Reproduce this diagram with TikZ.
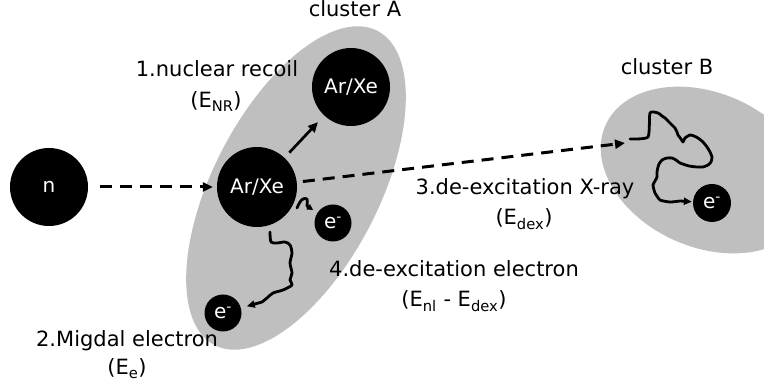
\documentclass[tikz,border=0pt]{standalone}
\usepackage{fontspec}
\setmainfont{DejaVu Sans}
\usetikzlibrary{arrows.meta}
\definecolor{clgray}{RGB}{191,191,191}
\begin{document}
\begin{tikzpicture}[x=1pt,y=-1pt,
  ball/.style={circle,fill=black,text=white,inner sep=0pt,font=\fontsize{20}{24}\selectfont},
  eball/.style={circle,fill=black,text=white,inner sep=0pt,minimum size=37pt,font=\fontsize{20}{24}\selectfont},
  lbl/.style={anchor=base,font=\fontsize{21}{25}\selectfont,inner sep=0pt},
  dasharrow/.style={line width=3pt,dash pattern=on 12pt off 8pt,-{Triangle[length=10pt,width=9pt]}},
  solidarrow/.style={line width=2.7pt,-{Triangle[length=10pt,width=9pt]}},
  wiggle/.style={line width=2.8pt,line join=round,line cap=round,-{Triangle[length=8pt,width=7pt]}},
  hook/.style={line width=2.8pt,line join=round,line cap=round,-{Triangle[length=6pt,width=6pt]}}
]
\useasboundingbox (0,0) rectangle (764,387);
\clip (0,0) rectangle (764,387);
% clusters
\fill[clgray,rotate around={62.6:(296,188)}] (296,188) ellipse [x radius=177pt, y radius=83pt];
\fill[clgray,rotate around={-24:(706,170)}] (706,170) ellipse [x radius=110pt, y radius=77pt];
% labels
\node[lbl] (cA) at (355,17) {cluster A};
\node[lbl] (cB) at (667,75) {cluster B};
\node[lbl] (l1) at (217,77) {1.nuclear recoil};
\node[lbl] (l1b) at (216,108) {(E\textsubscript{NR})};
\node[lbl] (l2) at (127,347) {2.Migdal electron};
\node[lbl] (l2b) at (127,375) {(E\textsubscript{e})};
\node[lbl] (l3) at (525,195) {3.de-excitation X-ray};
\node[lbl] (l3b) at (524,225) {(E\textsubscript{dex})};
\node[lbl] (l4) at (454,277) {4.de-excitation electron};
\node[lbl] (l4b) at (454,307) {(E\textsubscript{nl} - E\textsubscript{dex})};
% particles
\node[ball,minimum size=78pt] (n) at (49,187) {n};
\node[ball,minimum size=80pt] (ar1) at (257,187) {Ar/Xe};
\node[ball,minimum size=78pt] (ar2) at (351,87) {Ar/Xe};
\node[eball] (e1) at (333,223) {e\textsuperscript{-}};
\node[eball] (e2) at (223,313) {e\textsuperscript{-}};
\node[eball,minimum size=38pt] (e3) at (712,203) {e\textsuperscript{-}};
% connectors
\draw[dasharrow,shorten >=4pt,shorten <=12pt] (n) -- (ar1);
\draw[solidarrow,shorten >=9pt,shorten <=7pt] (ar1) -- (ar2);
\coordinate (xr) at (625,143);
\draw[dasharrow,shorten <=6pt] (ar1) -- (xr);
% Migdal electron
\draw[wiggle,shorten >=6pt] plot[smooth,tension=0.5] coordinates {(270,232) (271,242) (277,243) (285,242) (290,245) (292,253) (290,263) (292,273) (290,280) (292,285) (283,290) (273,293) (267,298) (262,302)} -- (e2);
% de-excitation electron hook
\draw[hook,shorten >=5pt] plot[smooth,tension=0.5] coordinates {(297,208) (300,202) (303,199) (307,199) (307,206)} -- (e1);
% X-ray absorption track in cluster B
\draw[wiggle,shorten >=1pt] plot[smooth,tension=0.35] coordinates {(630,139) (648,137) (650,113) (658,113) (662,116) (665,118) (668,121) (670,123) (673,126) (675,128) (677,132) (678,135) (681,139) (683,142) (685,138) (690,135) (694,136) (698,138) (703,142) (707,147) (710,152) (712,157) (711,162) (708,165) (703,167) (697,167) (689,166) (680,163) (676,160) (672,158) (667,158) (662,160) (659,164) (658,167) (657,172) (657,177) (655,181) (653,185) (654,190) (655,193) (660,200) (670,202) (680,201)} -- (e3);
\end{tikzpicture}
\end{document}
